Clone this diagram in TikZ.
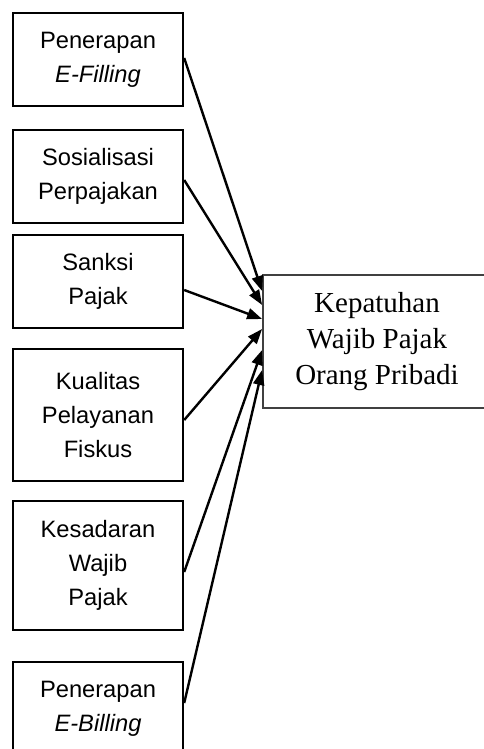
\documentclass[tikz,border=0pt]{standalone}
\usepackage{fontspec}
\setmainfont{Liberation Serif}
\newfontfamily\arialf{Liberation Sans}
\usetikzlibrary{arrows.meta}
\definecolor{tgtline}{HTML}{404040}
\tikzset{
  srcbox/.style={draw=black, line width=2.4pt, minimum width=170pt, inner sep=0pt,
    align=center, font=\arialf\fontsize{23.7}{34}\selectfont},
  tgtbox/.style={draw=tgtline, line width=1.8pt, minimum width=228pt, minimum height=133pt,
    inner sep=0pt, align=center, font=\fontsize{29}{36}\selectfont},
  link/.style={line width=2.4pt, -{Triangle[length=15pt,width=11pt]}}
}
\begin{document}
\begin{tikzpicture}[x=1pt,y=1pt]
\clip (0,0) rectangle (484,-749);
\useasboundingbox (0,0) rectangle (484,-749);
\node[srcbox, minimum height=93pt] (b1) at (98,-59.5) {Penerapan\\\textit{E-Filling}};
\node[srcbox, minimum height=93pt] (b2) at (98,-176.5) {Sosialisasi\\Perpajakan};
\node[srcbox, minimum height=93pt] (b3) at (98,-281.5) {Sanksi\\Pajak};
\node[srcbox, minimum height=132pt] (b4) at (98,-415) {Kualitas\\Pelayanan\\Fiskus};
\node[srcbox, minimum height=129pt] (b5) at (98,-565.5) {Kesadaran\\Wajib\\Pajak};
\node[srcbox, minimum height=93pt] (b6) at (98,-708.5) {Penerapan\\\textit{E-Billing}};
\node[tgtbox] (t) at (377,-341.5) {Kepatuhan\\Wajib Pajak\\Orang Pribadi};
\draw[link] ([yshift=1.5pt]b1.east) -- ([yshift=50.5pt]t.west);
\draw[link] ([yshift=-3.5pt]b2.east) -- ([yshift=36.5pt]t.west);
\draw[link] ([yshift=-8.5pt]b3.east) -- ([yshift=22.5pt]t.west);
\draw[link] ([yshift=-5pt]b4.east) -- ([yshift=12.5pt]t.west);
\draw[link] ([yshift=-6.5pt]b5.east) -- ([yshift=-8.5pt]t.west);
\draw[link] ([yshift=5.5pt]b6.east) -- ([yshift=-28.5pt]t.west);
\end{tikzpicture}
\end{document}
